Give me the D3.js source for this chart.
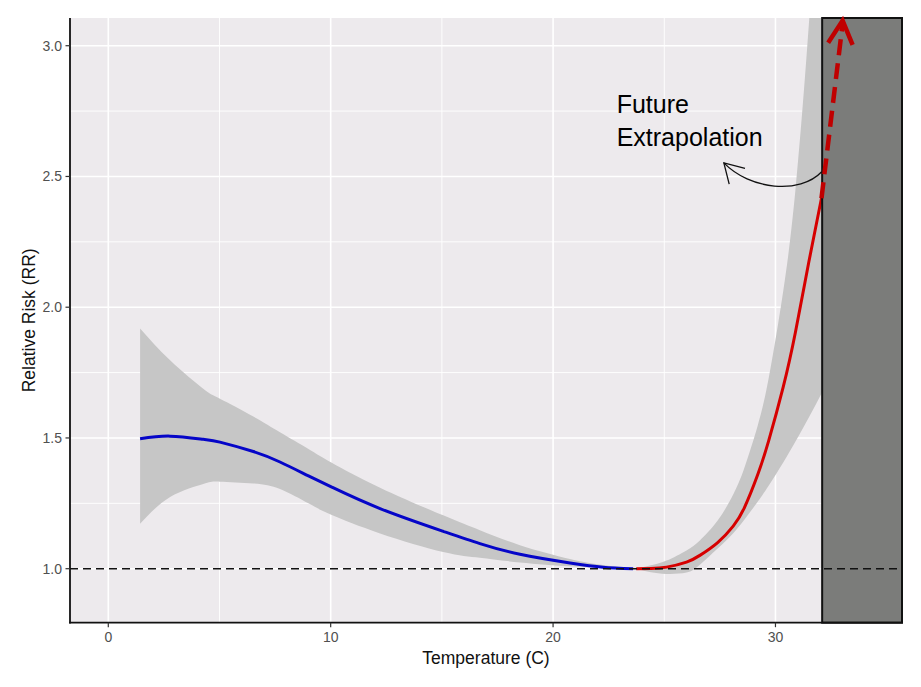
<!DOCTYPE html>
<html>
<head>
<meta charset="utf-8">
<script src="https://cdn.jsdelivr.net/npm/d3@7"></script>
<style>
  html, body { margin: 0; padding: 0; background: #ffffff; }
  svg { display: block; font-family: "Liberation Sans", Arial, sans-serif; }
</style>
</head>
<body>
<svg id="chart" width="921" height="687"></svg>
<script>
// ---------- data ----------
const xTicks = [0, 10, 20, 30];
const xMinorTicks = [5, 15, 25, 35];
const yTicks = [1.0, 1.5, 2.0, 2.5, 3.0];
const yMinorTicks = [1.25, 1.75, 2.25, 2.75];

// cold side (blue) : temperature, relative risk, CI low, CI high
const coldT  = [1.43, 2.78, 4.27, 5.02, 6.52, 7.72, 9.0, 10.05, 12.22, 15.06, 16.71, 18.51, 20.76, 22.24, 23.6];
const coldRR = [1.497, 1.507, 1.495, 1.484, 1.448, 1.408, 1.355, 1.312, 1.230, 1.143, 1.096, 1.055, 1.022, 1.006, 1.000];
const coldLo = [1.172, 1.274, 1.324, 1.333, 1.326, 1.305, 1.250, 1.205, 1.135, 1.064, 1.042, 1.024, 1.009, 1.003, 1.000];
const coldHi = [1.919, 1.797, 1.688, 1.650, 1.582, 1.522, 1.458, 1.405, 1.310, 1.204, 1.147, 1.090, 1.0375, 1.0145, 1.000];

// hot side (red)
const hotT  = [23.74, 24.4, 25.1, 26.0, 26.6, 27.4, 28.1, 28.6, 29.2, 29.7, 30.35, 30.9, 31.5, 32.1];
const hotRR = [1.000, 1.001, 1.006, 1.025, 1.051, 1.100, 1.163, 1.233, 1.359, 1.491, 1.695, 1.905, 2.173, 2.430];
const hotLo = [1.000, 0.986, 0.980, 0.985, 1.015, 1.077, 1.136, 1.187, 1.256, 1.318, 1.406, 1.486, 1.578, 1.675];
const hotHi = [1.000, 1.013, 1.031, 1.070, 1.108, 1.184, 1.284, 1.385, 1.547, 1.731, 2.062, 2.450, 3.080, 3.853];

// future (extrapolation) region start, reference line
const futureStart = 32.1;
const refRR = 1.0;

// annotations (data units)
const noteLines = ["Future", "Extrapolation"];
const noteAnchor = [22.86, 2.741];
const noteLineStepRR = 0.125;
const extrapFrom = [32.07, 2.417];
const extrapTo = [33.02, 3.096];
const extrapWingL = [32.37, 3.011];
const extrapWingR = [33.47, 3.003];
const curveArrow = [[32.08, 2.518], [31.10, 2.430], [28.85, 2.449], [27.68, 2.552]];
const curveWingA = [28.63, 2.531];
const curveWingB = [27.92, 2.471];

// ---------- layout ----------
const svg = d3.select("#chart");
const L = 70, R = 902, T = 18, B = 622.7;
const x = d3.scaleLinear().domain([-1.722, 35.69]).range([L, R]);
const y = d3.scaleLinear().domain([0.7935, 3.106]).range([B, T]);

const panelR = x(futureStart);

// panel background
svg.append("rect").attr("x", L).attr("y", T).attr("width", R - L).attr("height", B - T)
  .attr("fill", "#EDEAED");

// grid
const grid = svg.append("g");
grid.selectAll(".vmin").data(xMinorTicks.filter(d => x(d) < panelR)).join("line")
  .attr("x1", d => x(d)).attr("x2", d => x(d)).attr("y1", T).attr("y2", B)
  .attr("stroke", "#ffffff").attr("stroke-width", 0.9);
grid.selectAll(".hmin").data(yMinorTicks).join("line")
  .attr("x1", L).attr("x2", panelR).attr("y1", d => y(d)).attr("y2", d => y(d))
  .attr("stroke", "#ffffff").attr("stroke-width", 0.9);
grid.selectAll(".vmaj").data(xTicks).join("line")
  .attr("x1", d => x(d)).attr("x2", d => x(d)).attr("y1", T).attr("y2", B)
  .attr("stroke", "#ffffff").attr("stroke-width", 1.6);
grid.selectAll(".hmaj").data(yTicks).join("line")
  .attr("x1", L).attr("x2", panelR).attr("y1", d => y(d)).attr("y2", d => y(d))
  .attr("stroke", "#ffffff").attr("stroke-width", 1.6);

// clip to panel
svg.append("clipPath").attr("id", "pclip").append("rect")
  .attr("x", L).attr("y", T).attr("width", R - L).attr("height", B - T);

const plot = svg.append("g").attr("clip-path", "url(#pclip)");

function toRows(ts, rr, lo, hi) {
  return ts.map((t, i) => ({ t: t, rr: rr[i], lo: lo[i], hi: hi[i] }));
}
const cold = toRows(coldT, coldRR, coldLo, coldHi);
const hot = toRows(hotT, hotRR, hotLo, hotHi);

const area = d3.area().x(d => x(d.t)).y0(d => y(d.lo)).y1(d => y(d.hi)).curve(d3.curveNatural);
const line = d3.line().x(d => x(d.t)).y(d => y(d.rr)).curve(d3.curveNatural);

plot.append("path").datum(cold).attr("d", area).attr("fill", "#C6C6C6");
plot.append("path").datum(hot).attr("d", area).attr("fill", "#C6C6C6");
plot.append("path").datum(cold).attr("d", line).attr("fill", "none")
  .attr("stroke", "#0505C8").attr("stroke-width", 3);
plot.append("path").datum(hot).attr("d", line).attr("fill", "none")
  .attr("stroke", "#D60000").attr("stroke-width", 3);

// future region box
svg.append("rect").attr("x", panelR).attr("y", T).attr("width", R - panelR).attr("height", B - T)
  .attr("fill", "#7B7C7A").attr("stroke", "#111111").attr("stroke-width", 2);

// reference line
svg.append("line").attr("x1", L).attr("x2", R).attr("y1", y(refRR)).attr("y2", y(refRR))
  .attr("stroke", "#111111").attr("stroke-width", 1.6).attr("stroke-dasharray", "8,5");

// axes lines
svg.append("line").attr("x1", L).attr("x2", L).attr("y1", T).attr("y2", B + 0.8)
  .attr("stroke", "#111111").attr("stroke-width", 1.8);
svg.append("line").attr("x1", L - 0.8).attr("x2", R + 0.8).attr("y1", B).attr("y2", B)
  .attr("stroke", "#111111").attr("stroke-width", 1.8);

// ticks & labels
const xt = svg.append("g");
xt.selectAll("line").data(xTicks).join("line")
  .attr("x1", d => x(d)).attr("x2", d => x(d)).attr("y1", B).attr("y2", B + 4.5)
  .attr("stroke", "#333333").attr("stroke-width", 1.2);
xt.selectAll("text").data(xTicks).join("text")
  .attr("x", d => x(d)).attr("y", B + 19).attr("text-anchor", "middle")
  .attr("font-size", 14).attr("fill", "#505050").text(d => d3.format("d")(d));

const yt = svg.append("g");
yt.selectAll("line").data(yTicks).join("line")
  .attr("x1", L - 4.5).attr("x2", L).attr("y1", d => y(d)).attr("y2", d => y(d))
  .attr("stroke", "#333333").attr("stroke-width", 1.2);
yt.selectAll("text").data(yTicks).join("text")
  .attr("x", L - 8).attr("y", d => y(d) + 5).attr("text-anchor", "end")
  .attr("font-size", 14).attr("fill", "#505050").text(d => d3.format(".1f")(d));

// axis titles
svg.append("text").attr("x", (L + R) / 2).attr("y", 664).attr("text-anchor", "middle")
  .attr("font-size", 17.5).attr("fill", "#111111").text("Temperature (C)");
svg.append("text").attr("transform", `translate(35,${(T + B) / 2}) rotate(-90)`)
  .attr("text-anchor", "middle").attr("font-size", 17.5).attr("fill", "#111111")
  .text("Relative Risk (RR)");

// extrapolation arrow (dashed red)
svg.append("line")
  .attr("x1", x(extrapFrom[0])).attr("y1", y(extrapFrom[1]))
  .attr("x2", x(extrapTo[0])).attr("y2", y(extrapTo[1]) + 3)
  .attr("stroke", "#C00000").attr("stroke-width", 4.5).attr("stroke-dasharray", "16,8");
svg.append("path")
  .attr("d", `M${x(extrapWingL[0])},${y(extrapWingL[1])} L${x(extrapTo[0])},${y(extrapTo[1])} L${x(extrapWingR[0])},${y(extrapWingR[1])}`)
  .attr("fill", "none").attr("stroke", "#C00000").attr("stroke-width", 4.5)
  .attr("stroke-linejoin", "miter").attr("stroke-linecap", "butt");

// curved black arrow
const ca = curveArrow.map(p => [x(p[0]), y(p[1])]);
svg.append("path")
  .attr("d", `M${ca[0][0]},${ca[0][1]} C${ca[1][0]},${ca[1][1]} ${ca[2][0]},${ca[2][1]} ${ca[3][0]},${ca[3][1]}`)
  .attr("fill", "none").attr("stroke", "#111111").attr("stroke-width", 1.3);
svg.append("path")
  .attr("d", `M${x(curveWingA[0])},${y(curveWingA[1])} L${ca[3][0]},${ca[3][1]} L${x(curveWingB[0])},${y(curveWingB[1])}`)
  .attr("fill", "none").attr("stroke", "#111111").attr("stroke-width", 1.3);

// annotation text
svg.append("g").selectAll("text").data(noteLines).join("text")
  .attr("x", x(noteAnchor[0])).attr("y", (d, i) => y(noteAnchor[1] - i * noteLineStepRR))
  .attr("font-size", 25).attr("fill", "#000000").text(d => d);
</script>
</body>
</html>
